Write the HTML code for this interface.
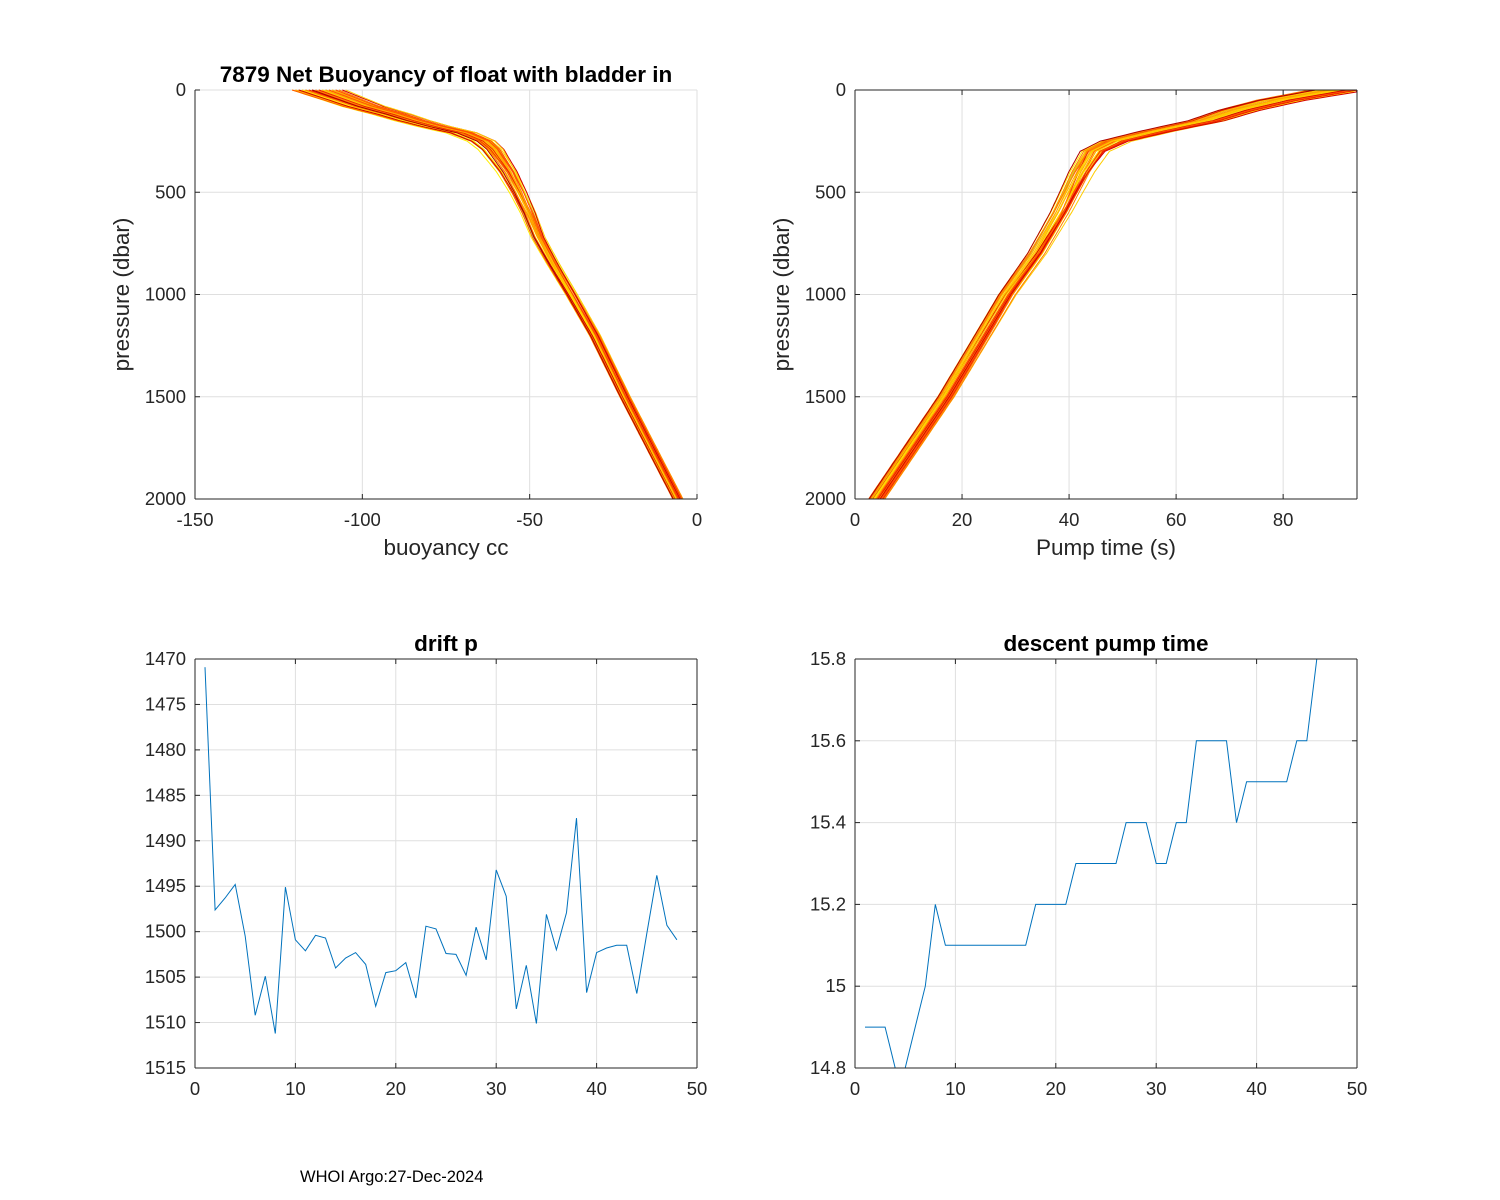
<!DOCTYPE html>
<html><head><meta charset="utf-8">
<style>
body{margin:0;background:#fff;}
svg{display:block;font-family:"Liberation Sans",Arial,sans-serif;}
</style></head>
<body>
<svg id="fig" width="1500" height="1200" viewBox="0 0 1500 1200" xmlns="http://www.w3.org/2000/svg">
<rect width="1500" height="1200" fill="#fff"/>
<text x="300" y="1182" font-size="16.5" fill="#000">WHOI Argo:27-Dec-2024</text>
</svg>
<script>
// ---- data ----
const driftCycles = [1,2,3,4,5,6,7,8,9,10,11,12,13,14,15,16,17,18,19,20,21,22,23,24,25,26,27,28,29,30,31,32,33,34,35,36,37,38,39,40,41,42,43,44,45,46,47,48];
const driftP = [1470.9,1497.6,1496.3,1494.8,1500.5,1509.2,1504.9,1511.2,1495.1,1500.9,1502.1,1500.4,1500.7,1504.0,1502.9,1502.3,1503.6,1508.2,1504.5,1504.3,1503.4,1507.3,1499.4,1499.7,1502.4,1502.5,1504.8,1499.5,1503.1,1493.2,1496.1,1508.5,1503.7,1510.1,1498.1,1502.0,1497.9,1487.5,1506.7,1502.3,1501.8,1501.5,1501.5,1506.8,1500.2,1493.8,1499.3,1500.9];
const pumpTime = [14.9,14.9,14.9,14.8,14.8,14.9,15.0,15.2,15.1,15.1,15.1,15.1,15.1,15.1,15.1,15.1,15.1,15.2,15.2,15.2,15.2,15.3,15.3,15.3,15.3,15.3,15.4,15.4,15.4,15.3,15.3,15.4,15.4,15.6,15.6,15.6,15.6,15.4,15.5,15.5,15.5,15.5,15.5,15.6,15.6,15.8,15.8,15.8];
// mean buoyancy profile
const profP = [0,40,80,120,150,180,210,250,290,400,500,600,720,850,1000,1200,1500,2000];
const profBuoy = [-115,-108,-101,-92,-86,-79,-71,-65,-62,-57,-53.5,-50.5,-47.5,-43,-37.5,-30.5,-21.5,-5.7];
// mean pump-time profile
const pumpP = [0,50,100,150,200,250,300,400,500,600,800,1000,1500,2000];
const pumpT = [91,80,72,66,57,49,45,42.5,40.5,38.5,34,28.5,17,4.05];
// per-profile offsets (shallow / deep) and colour index
const bShallow = [-6,-4,-2,0,2,4,6,8,-5,-3,-1,1,3,5,7,-6,-4,-2,0,2,4,6,-5,-3,-1,1,3,5,-4,-2,0,2,4,9,10,7];
const bDeep    = [-1.5,-1,0.5,1,-0.5,0,1.5,-1,0.5,-1.5,1,0,-0.5,1.2,-1.2,0.8,-0.8,1.5,0.3,-0.3,1,-1,0.5,-0.5,1.2,-1.2,0,0.7,-0.7,1.4,-1.4,0.2,-0.2,0.6,-0.6,0];
const tShallow = [-4,-3,-2,0,2,3,4,-4,-2,-1,1,2,4,-5,-3,-1,0,1,3,-4,-2,-1,1,2,-5,-2,0,2,5,-6,-5,3,-2,1,-1,2];
const tDeep    = [-1.5,-1,0.5,1,-0.5,0,1.5,-1,0.5,-1.5,1,0,-0.5,1.2,-1.2,0.8,-0.8,1.5,0.3,-0.3,1,-1,0.5,-0.5,1.2,-1.2,0,0.7,-0.7,1.4,-1.4,0.2,-0.2,0.6,-0.6,0];
const colorIdx = [7,9,6,8,5,7,6,4,5,3,6,4,7,8,5,3,6,4,2,6,3,5,5,7,2,4,6,3,1,4,0,2,5,1,6,3];
const palette = ['#b00000','#d40000','#ee2000','#ff5000','#ff8000','#ffaa00','#ffcc00','#ffee00','#e0ff30','#80ff80'];

const svg = document.getElementById('fig');
const NS = 'http://www.w3.org/2000/svg';
function mk(tag, attrs, parent){const e=document.createElementNS(NS,tag);for(const k in attrs)e.setAttribute(k,attrs[k]);(parent||svg).appendChild(e);return e;}
function interp(xs, ys, x){for(let i=0;i<xs.length-1;i++){if(x>=xs[i]&&x<=xs[i+1]){const t=(x-xs[i])/(xs[i+1]-xs[i]);return ys[i]+t*(ys[i+1]-ys[i]);}}return ys[ys.length-1];}

function axes(o){
  const g=mk('g',{});
  
  
  const sx=v=>o.x0+(v-o.xmin)/(o.xmax-o.xmin)*(o.x1-o.x0);
  const sy=o.yrev? (v=>o.y0+(v-o.ymin)/(o.ymax-o.ymin)*(o.y1-o.y0)) : (v=>o.y1-(v-o.ymin)/(o.ymax-o.ymin)*(o.y1-o.y0));
  o.xt.forEach(v=>{const l=mk('line',{x1:sx(v),x2:sx(v),y1:o.y0,y2:o.y1,stroke:'#dfdfdf','stroke-width':1},g);});
  o.yt.forEach(v=>{const l=mk('line',{x1:o.x0,x2:o.x1,y1:sy(v),y2:sy(v),stroke:'#dfdfdf','stroke-width':1},g);});
  const plot=mk('g',{},g);
  
  
  o.draw(plot,sx,sy);
  const c='#262626';
  mk('line',{x1:o.x0,x2:o.x1,y1:o.y1,y2:o.y1,stroke:c,'stroke-width':1},g);
  mk('line',{x1:o.x0,x2:o.x0,y1:o.y0,y2:o.y1,stroke:c,'stroke-width':1},g);
  if(o.box){mk('line',{x1:o.x0,x2:o.x1,y1:o.y0,y2:o.y0,stroke:c,'stroke-width':1},g);mk('line',{x1:o.x1,x2:o.x1,y1:o.y0,y2:o.y1,stroke:c,'stroke-width':1},g);}
  o.xt.forEach((v,i)=>{
    mk('line',{x1:sx(v),x2:sx(v),y1:o.y1,y2:o.y1-5,stroke:c},g);
    if(o.box) mk('line',{x1:sx(v),x2:sx(v),y1:o.y0,y2:o.y0+5,stroke:c},g);
    const t=mk('text',{x:sx(v),y:o.y1+27,'font-size':18.5,'text-anchor':'middle',fill:c},g);
    
    
    t.textContent=o.xl[i];
  });
  o.yt.forEach((v,i)=>{
    mk('line',{x1:o.x0,x2:o.x0+5,y1:sy(v),y2:sy(v),stroke:c},g);
    if(o.box) mk('line',{x1:o.x1,x2:o.x1-5,y1:sy(v),y2:sy(v),stroke:c},g);
    const t=mk('text',{x:o.x0-9,y:sy(v)+6,'font-size':18.5,'text-anchor':'end',fill:c},g);
    
    
    t.textContent=o.yl[i];
  });
  if(o.title){const t=mk('text',{x:(o.x0+o.x1)/2,y:o.y0-8,'font-size':22.5,'font-weight':'bold','text-anchor':'middle',fill:'#000'},g);
    
    
    t.textContent=o.title;}
  if(o.xlabel){const t=mk('text',{x:(o.x0+o.x1)/2,y:o.y1+56,'font-size':22.5,'text-anchor':'middle',fill:c},g);
    
    
    t.textContent=o.xlabel;}
  if(o.ylabel){const cy=(o.y0+o.y1)/2;const t=mk('text',{x:o.x0-66,y:cy,'font-size':22.5,'text-anchor':'middle',fill:c,transform:`rotate(-90 ${o.x0-66} ${cy})`},g);
    
    
    t.textContent=o.ylabel;}
}
const depths=[];for(let p=0;p<=2000;p+=10)depths.push(p);
function profileWeights(p){return Math.exp(-p/350);}

axes({name:'buoyancy-chart',x0:195,x1:697,y0:90,y1:499,xmin:-150,xmax:0,ymin:0,ymax:2000,yrev:true,box:false,
 xt:[-150,-100,-50,0],xl:['-150','-100','-50','0'],yt:[0,500,1000,1500,2000],yl:['0','500','1000','1500','2000'],
 title:'7879 Net Buoyancy of float with bladder in',xlabel:'buoyancy cc',ylabel:'pressure (dbar)',
 draw:(g,sx,sy)=>{bShallow.forEach((s,i)=>{const w=depths.map(p=>{const a=profileWeights(p);return interp(profP,profBuoy,p)+s*a+bDeep[i]*(1-a);});
   const d=depths.map((p,k)=>(k?'L':'M')+sx(w[k]).toFixed(1)+','+sy(p).toFixed(1)).join('');
   const l=mk('path',{d:d,fill:'none',stroke:palette[colorIdx[i]],'stroke-width':1},g);
   
   });}});

axes({name:'pump-time-chart',x0:855,x1:1357,y0:90,y1:499,xmin:0,xmax:93.8,ymin:0,ymax:2000,yrev:true,box:true,
 xt:[0,20,40,60,80],xl:['0','20','40','60','80'],yt:[0,500,1000,1500,2000],yl:['0','500','1000','1500','2000'],
 xlabel:'Pump time (s)',ylabel:'pressure (dbar)',
 draw:(g,sx,sy)=>{tShallow.forEach((s,i)=>{const w=depths.map(p=>{const a=profileWeights(p);return interp(pumpP,pumpT,p)+s*a+tDeep[i]*(1-a);});
   const d=depths.map((p,k)=>(k?'L':'M')+sx(Math.min(93.8,w[k])).toFixed(1)+','+sy(p).toFixed(1)).join('');
   const l=mk('path',{d:d,fill:'none',stroke:palette[colorIdx[i]],'stroke-width':1},g);
   
   });}});

axes({name:'drift-p-chart',x0:195,x1:697,y0:659,y1:1068,xmin:0,xmax:50,ymin:1470,ymax:1515,yrev:true,box:true,
 xt:[0,10,20,30,40,50],xl:['0','10','20','30','40','50'],yt:[1470,1475,1480,1485,1490,1495,1500,1505,1510,1515],yl:['1470','1475','1480','1485','1490','1495','1500','1505','1510','1515'],
 title:'drift p',
 draw:(g,sx,sy)=>{const d=driftP.map((v,i)=>(i?'L':'M')+sx(driftCycles[i]).toFixed(1)+','+sy(v).toFixed(1)).join('');
   const l=mk('path',{d:d,fill:'none',stroke:'#0072bd','stroke-width':1},g);
   
   }});

axes({name:'descent-pump-time-chart',x0:855,x1:1357,y0:659,y1:1068,xmin:0,xmax:50,ymin:14.8,ymax:15.8,yrev:false,box:true,
 xt:[0,10,20,30,40,50],xl:['0','10','20','30','40','50'],yt:[14.8,15,15.2,15.4,15.6,15.8],yl:['14.8','15','15.2','15.4','15.6','15.8'],
 title:'descent pump time',
 draw:(g,sx,sy)=>{const d=pumpTime.map((v,i)=>(i?'L':'M')+sx(driftCycles[i]).toFixed(1)+','+sy(v).toFixed(1)).join('');
   const l=mk('path',{d:d,fill:'none',stroke:'#0072bd','stroke-width':1},g);
   
   }});
</script>
</body></html>
